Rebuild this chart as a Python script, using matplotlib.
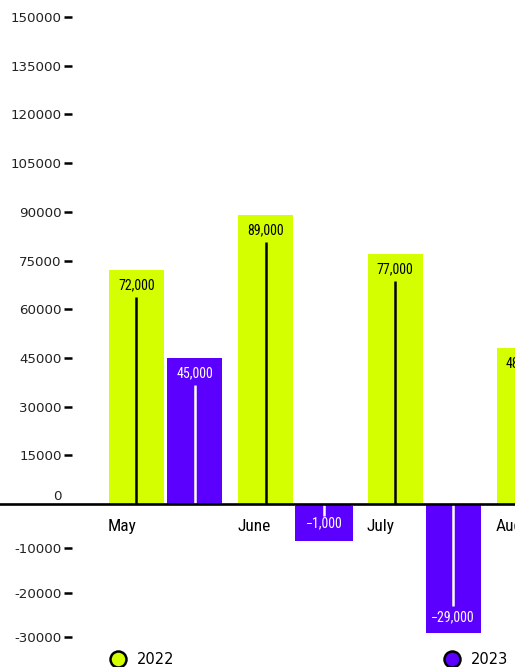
import numpy as np
import matplotlib
matplotlib.use("Agg")
import matplotlib.pyplot as plt
from matplotlib import font_manager
from matplotlib.lines import Line2D

months = ["May", "June", "July", "Aug"]
sales_2022 = [72000, 89000, 77000, 48000]
sales_2023 = [45000, -1000, -29000, np.nan]

pos_ticks = [15000, 30000, 45000, 60000, 75000, 90000, 105000, 120000, 135000, 150000]
neg_ticks = [-10000, -20000, -30000]

LIME = "#d4ff00"
VIOLET = "#5b00ff"

# the axis runs in steps of 15000 above zero and 10000 below it
POS_UNIT = 15000
NEG_UNIT = 11000


def fwd(y):
    y = np.asarray(y, dtype=float)
    return np.where(y >= 0, y / POS_UNIT, y / NEG_UNIT)


def inv(u):
    u = np.asarray(u, dtype=float)
    return np.where(u >= 0, u * POS_UNIT, u * NEG_UNIT)


def pick_font(candidates):
    have = {f.name for f in font_manager.fontManager.ttflist}
    for name in candidates:
        if name in have:
            return name
    return "DejaVu Sans"


narrow = pick_font(["Liberation Sans Narrow", "Roboto Condensed",
                    "Open Sans Condensed", "DejaVu Sans"])

fig = plt.figure(figsize=(5.15, 6.67), dpi=100)
ax = fig.add_axes([72 / 515, 30 / 667, 443 / 515, 620 / 667])
ax.set_yscale("function", functions=(fwd, inv))
ax.set_ylim(-30000, 150000)
ax.set_xlim(-0.286, 3.14)

x = np.arange(len(months))
width = 0.425
shift = 0.449

ax.bar(x, sales_2022, width=width, align="edge", color=LIME, zorder=2)
ax.bar(x + shift, sales_2023, width=width, align="edge", color=VIOLET, zorder=2)

# zero line runs across the whole figure
left_frac = ax.get_position().x0 / ax.get_position().width
ax.axhline(0, xmin=-left_frac, xmax=1, color="black", lw=1.9, clip_on=False, zorder=6)


def to_px(v):
    return ax.transData.transform((0, v))[1]


def from_px(py):
    return ax.transData.inverted().transform((0, py))[1]


def label_bars(xs, vals, txt_color, stem_color, box_color):
    y0 = to_px(0)
    for xi, v in zip(xs, vals):
        if np.isnan(v):
            continue
        text = f"{int(v):,}".replace("-", "\u2212")
        sign = 1 if v >= 0 else -1
        yv = to_px(v)
        if abs(yv - y0) > 32:
            ax.annotate(text, (xi, v), xytext=(0, -15 * sign), textcoords="offset pixels",
                        ha="center", va="center", color=txt_color, fontsize=10,
                        family=narrow, zorder=4, annotation_clip=False)
            stem_end = from_px(yv - 27 * sign)
        else:
            # too short to hold its label, so the label gets a box of its own
            ax.annotate(text, (xi, v), xytext=(0, 15 * sign), textcoords="offset pixels",
                        ha="center", va="center", color=txt_color, fontsize=10,
                        family=narrow, zorder=4, annotation_clip=False,
                        bbox=dict(boxstyle="square,pad=0.75", fc=box_color, ec="none"))
            stem_end = from_px(y0 + 12 * sign)
        ax.vlines(xi, 0, stem_end, colors=stem_color, lw=1.8, zorder=5)


label_bars(x + width / 2, sales_2022, "black", "black", LIME)
label_bars(x + shift + width / 2, sales_2023, "white", "white", VIOLET)

for xi, m in zip(x, months):
    ax.annotate(m, (xi, 0), xytext=(-1, -22), textcoords="offset pixels",
                ha="left", va="center", fontsize=12.5, family=narrow, color="black")

ax.set_yticks(pos_ticks + neg_ticks)
ax.set_yticklabels([str(t) for t in pos_ticks + neg_ticks])
ax.yaxis.set_minor_locator(matplotlib.ticker.NullLocator())
ax.tick_params(axis="y", length=5.8, width=1.8, pad=1.5, labelsize=9.6,
               labelcolor="#222222", color="black")
ax.annotate("0", (0, 0), xycoords=("axes fraction", "data"), xytext=(-10, 8),
            textcoords="offset pixels", ha="right", va="center",
            fontsize=9.6, color="#222222", annotation_clip=False)
ax.set_xticks([])
for s in ax.spines.values():
    s.set_visible(False)

handles = [
    Line2D([], [], ls="", marker="o", markersize=11.5, mfc=LIME, mec="black", mew=1.8),
    Line2D([], [], ls="", marker="o", markersize=11.5, mfc=VIOLET, mec="black", mew=1.8),
]
fig.legend(handles, ["2022", "2023"], loc="center left",
           bbox_to_anchor=(110.7 / 515, 7 / 667), ncol=2, frameon=False,
           fontsize=10.5, handlelength=1.0, handletextpad=0.8,
           columnspacing=18.5, borderpad=0, borderaxespad=0)

fig.savefig("out.png", dpi=100)
